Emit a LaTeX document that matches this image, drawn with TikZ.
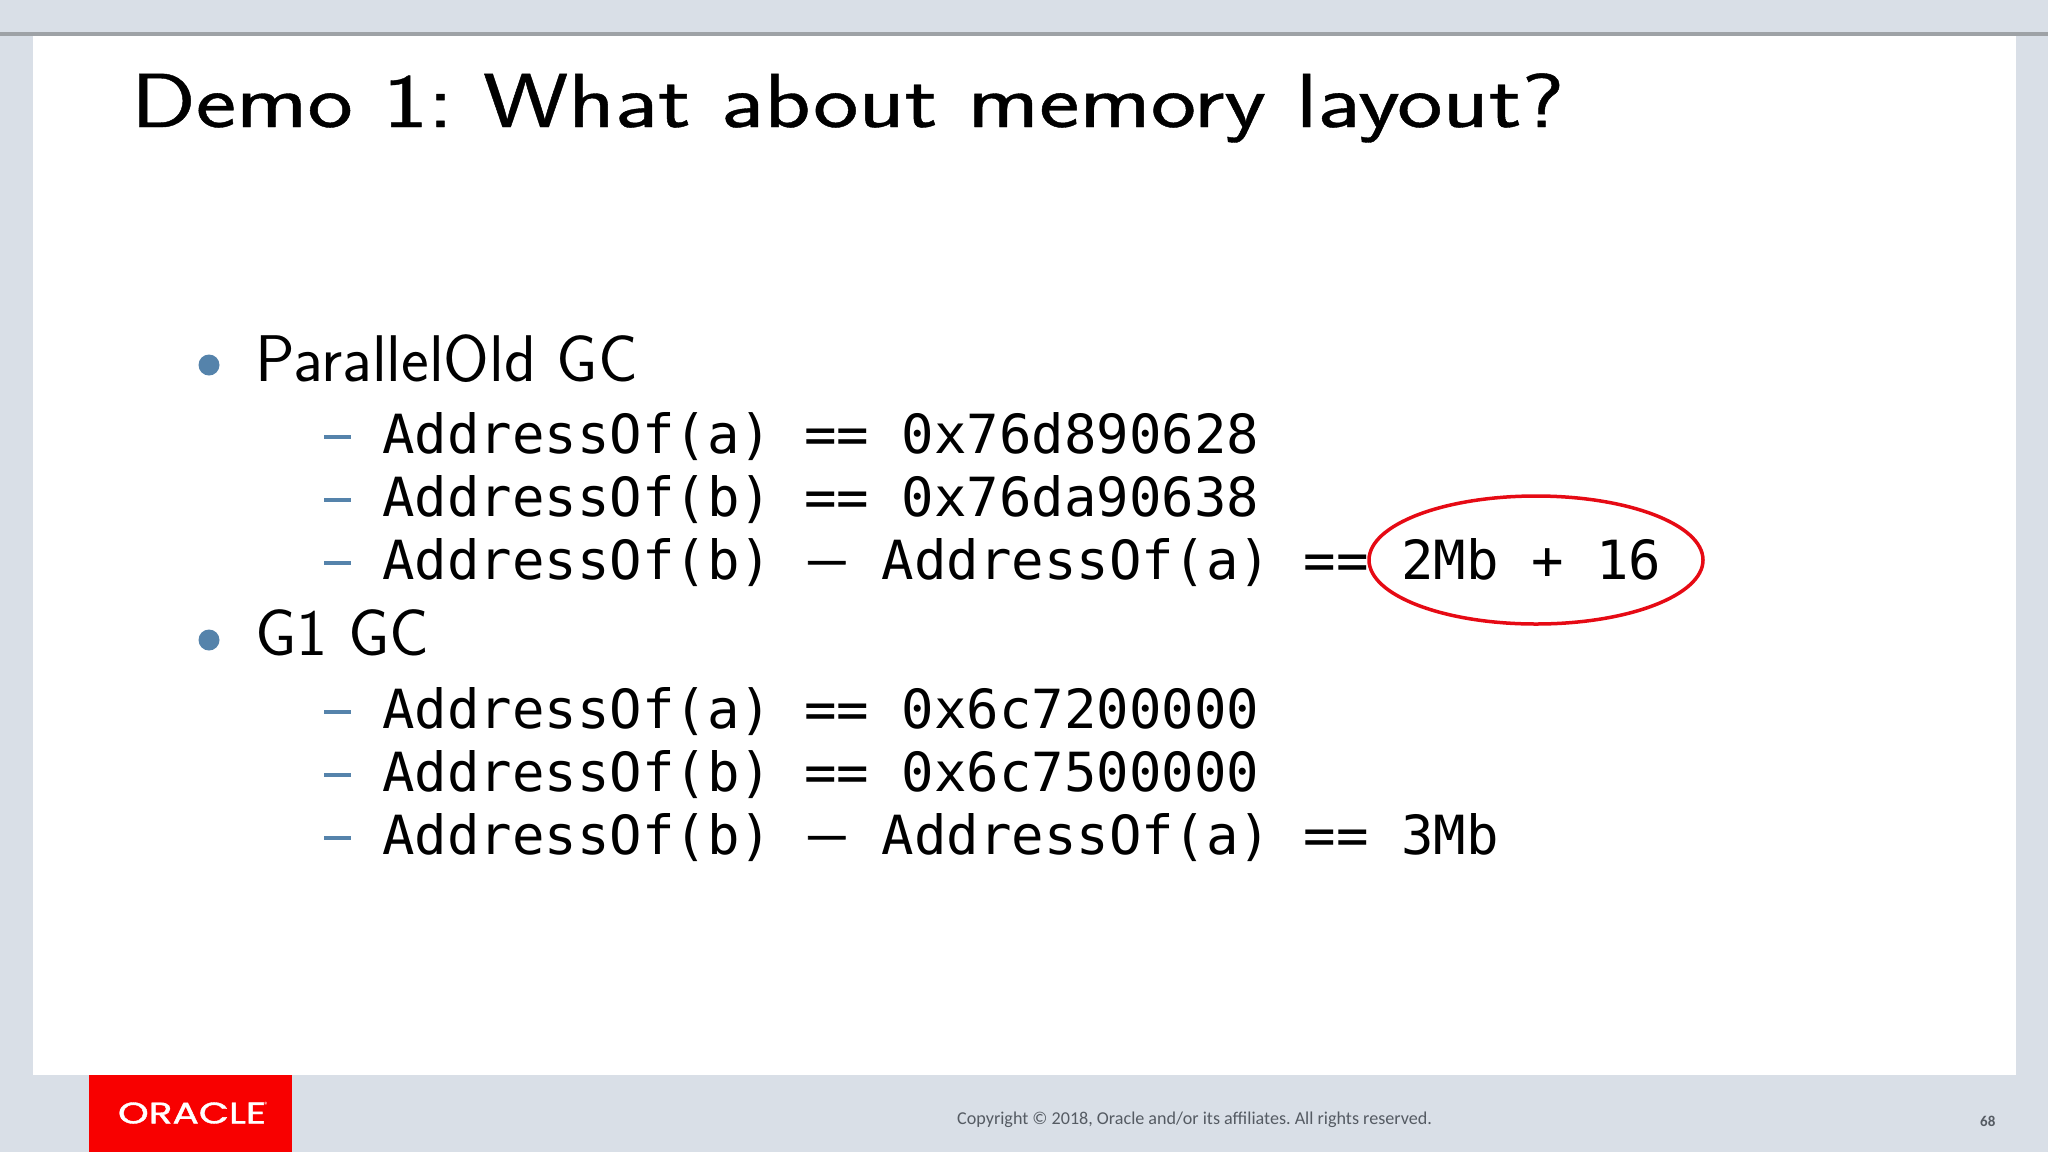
\documentclass[tikz,border=0pt]{standalone}
\usepackage{fontspec}
\setmainfont{Latin Modern Sans}
\setmonofont{DejaVu Sans Mono}
\newfontfamily\footfont{Carlito}
\newfontfamily\headfont{Latin Modern Sans}
\newfontfamily\titlefont[FakeBold=0.5]{Latin Modern Sans}
\newfontfamily\logofont[FakeBold=1.2]{Poppins}
\newfontfamily\dashfont[FakeBold=2]{DejaVu Sans}
\definecolor{bgblue}{HTML}{D9DFE7}
\definecolor{rulegray}{HTML}{9EA2A6}
\definecolor{bulletblue}{HTML}{5583AB}
\definecolor{oraclered}{HTML}{F80000}
\definecolor{footgray}{HTML}{555B63}
\definecolor{circlered}{HTML}{E60A14}
\newcommand{\longdash}{\makebox[44.6pt][c]{\raisebox{5pt}{\dashfont\fontsize{41}{41}\selectfont —}}}
\tikzset{
  x=1pt,y=-1pt,
  titletext/.style={anchor=base west,inner sep=0pt,font=\frenchspacing\titlefont\fontsize{76.5}{80}\selectfont},
  headtext/.style={anchor=base west,inner sep=0pt,font=\headfont\fontsize{66}{70}\selectfont},
  codetext/.style={anchor=base west,inner sep=0pt,font=\ttfamily\fontsize{53.96}{60}\selectfont},
  dot/.style={circle,fill=bulletblue,inner sep=0pt,minimum size=21pt},
  dashmark/.style={fill=bulletblue,inner sep=0pt,minimum width=27pt,minimum height=3.2pt},
  foottext/.style={anchor=base west,inner sep=0pt,text=footgray,font=\frenchspacing\footfont\fontsize{18.1}{22}\selectfont}
}
\begin{document}
\begin{tikzpicture}
\useasboundingbox (0,0) rectangle (2048,1152);
\fill[bgblue] (0,0) rectangle (2048,1152);
\fill[white] (32.5,34) rectangle (2016,1075);
\fill[rulegray] (0,32) rectangle (2048,35.5);
\fill[oraclered] (89,1075) rectangle (292,1152);
\node[anchor=center,inner sep=0pt,text=white,font=\logofont] (logo) at (192,1113) {\resizebox{148pt}{21pt}{ORACLE}};
\node[anchor=center,inner sep=0pt,text=white,font=\footfont\fontsize{9}{9}\selectfont] (reg) at (266.5,1105.5) {®};
\node[titletext] (title) at (130.5,127) {\scalebox{1.256}[1]{Demo 1: What about memory layout?}};
\node[dot] (b1) at (209,365) {};
\node[headtext] (h1) at (255,381) {ParallelOld GC};
\foreach \n/\y/\t in {a/453/{AddressOf(a) == 0x76d890628},b/516/{AddressOf(b) == 0x76da90638},c/579/{AddressOf(b) \longdash{} AddressOf(a) == 2Mb + 16}}{
  \node[dashmark] (d\n) at (337,\y-16) {};
  \node[codetext] (t\n) at (382,\y) {\t};
}
\node[dot] (b2) at (209,640) {};
\node[headtext] (h2) at (255,655) {G1 GC};
\foreach \n/\y/\t in {e/728/{AddressOf(a) == 0x6c7200000},f/791/{AddressOf(b) == 0x6c7500000},g/854/{AddressOf(b) \longdash{} AddressOf(a) == 3Mb}}{
  \node[dashmark] (d\n) at (337,\y-16) {};
  \node[codetext] (t\n) at (382,\y) {\t};
}
\draw[circlered,line width=3.5pt] (1536,560) ellipse [x radius=167,y radius=64];
\node[foottext] (copy) at (957,1124) {Copyright © 2018, Oracle and/or its affiliates. All rights reserved.};
\node[anchor=base west,inner sep=0pt,text=footgray,font=\footfont\bfseries\fontsize{15}{16}\selectfont] (page) at (1980,1126) {68};
\end{tikzpicture}
\end{document}
